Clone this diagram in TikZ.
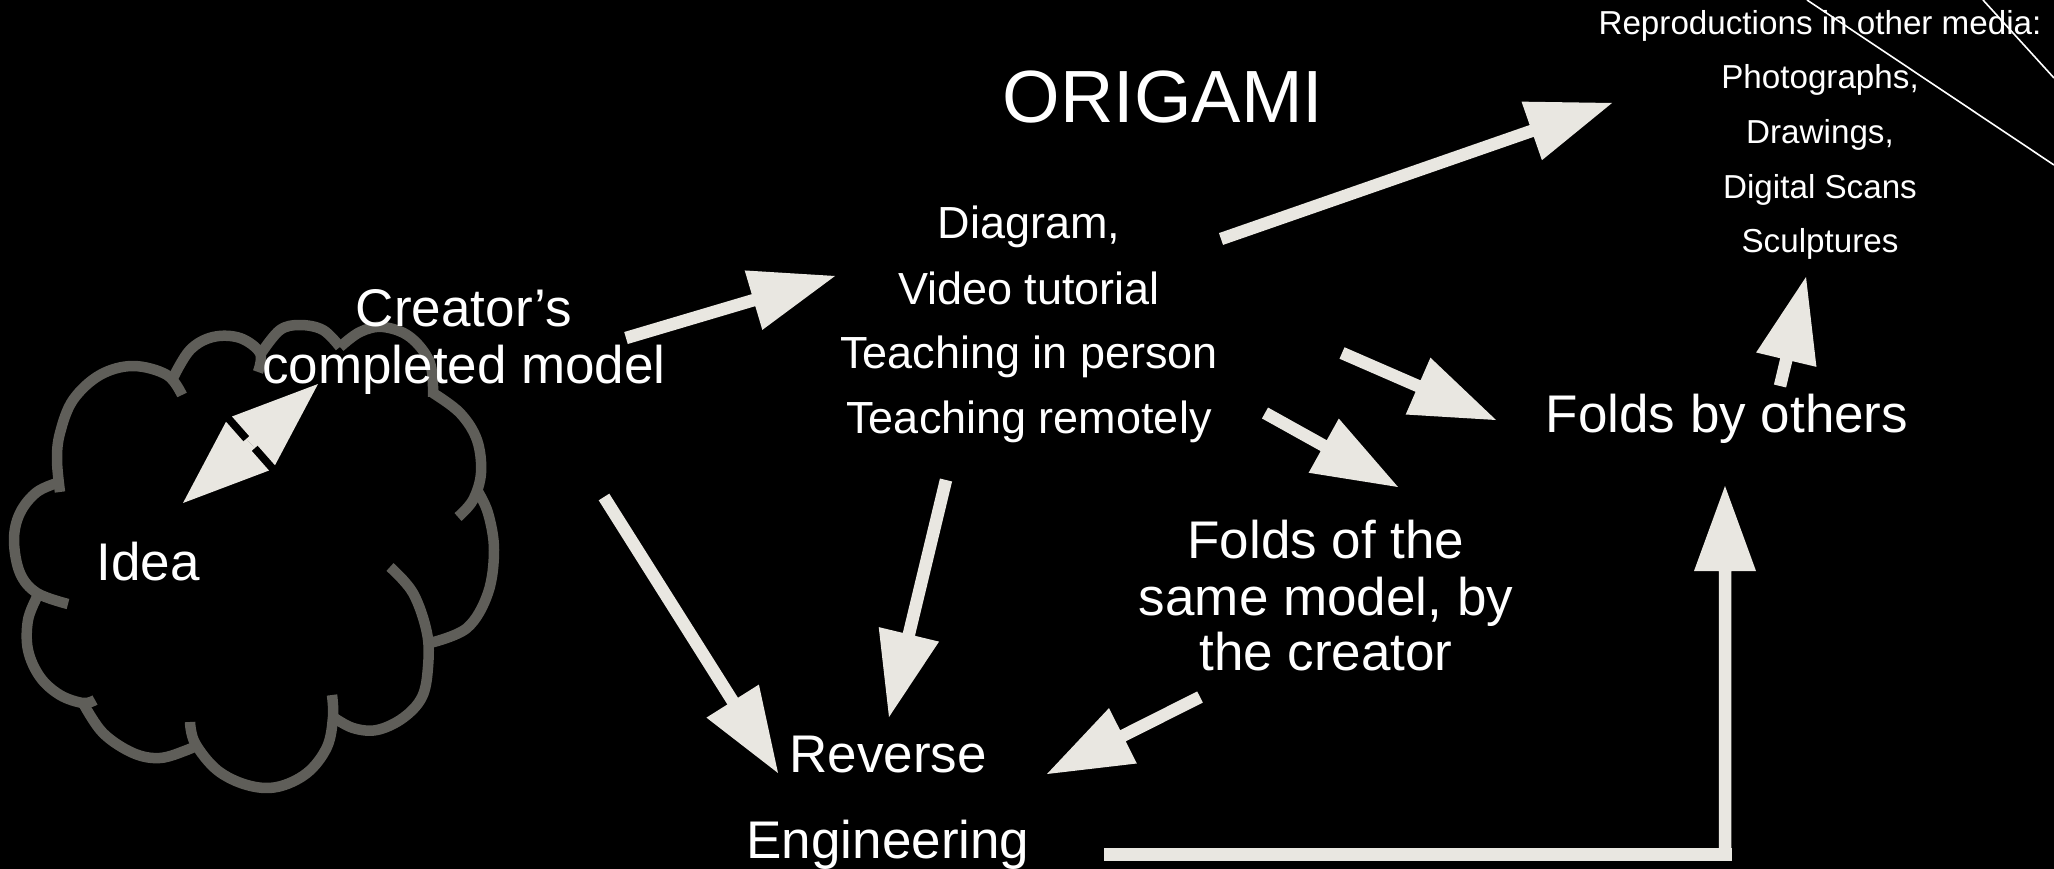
\documentclass[tikz,border=0pt]{standalone}
\usepackage{fontspec}
\setmainfont{Liberation Sans}
\usetikzlibrary{calc}
\definecolor{arrowc}{RGB}{233,231,225}
\definecolor{cloudc}{RGB}{95,94,89}
\def\asw{6.25pt}\def\ahw{31pt}\def\ahl{85pt}
\newcommand\barrow[2]{%
 \coordinate (bC) at ($(#2)!\ahl!(#1)$);
 \fill[arrowc] ($(#1)!\asw!90:(#2)$) -- ($(bC)!\asw!90:(#2)$) -- ($(bC)!\ahw!90:(#2)$) -- (#2)
   -- ($(bC)!\ahw!-90:(#2)$) -- ($(bC)!\asw!-90:(#2)$) -- ($(#1)!\asw!-90:(#2)$) -- cycle;}
\tikzset{
 txt/.style={text=white, inner sep=0pt, anchor=base},
 big/.style={txt, font=\fontsize{53}{60}\selectfont},
 mid/.style={txt, font=\fontsize{45}{52}\selectfont},
 small/.style={txt, font=\fontsize{33.2}{40}\selectfont},
 cloudline/.style={draw=cloudc, line width=10.5pt, line cap=butt, line join=round},
 thinline/.style={draw=white, line width=1.6pt}
}
\begin{document}
\begin{tikzpicture}[x=1pt,y=-1pt]
\useasboundingbox (0,0) rectangle (2054,869);
\fill[black] (0,0) rectangle (2054,869);

% cloud
\draw[cloudline] plot[smooth, tension=0.6] coordinates {(182,395) (167,375) (133,366) (100,375) (73,400) (60,433) (57,460) (60,492)};
\draw[cloudline] plot[smooth, tension=0.6] coordinates {(258,372) (260,353) (240,338) (213,337) (190,350) (173,378)};
\draw[cloudline] plot[smooth, tension=0.6] coordinates {(340,347) (323,330) (300,325) (280,330) (262,352)};
\draw[cloudline] plot[smooth, tension=0.6] coordinates {(433,397) (430,363) (410,337) (383,327) (360,332) (340,347)};
\draw[cloudline] plot[smooth, tension=0.6] coordinates {(458,517) (473,500) (481,473) (477,440) (460,413) (433,393)};
\draw[cloudline] plot[smooth, tension=0.6] coordinates {(430,643) (467,628) (488,593) (494,550) (488,513) (477,490)};
\draw[cloudline] plot[smooth, tension=0.6] coordinates {(333,717) (353,728) (377,730) (403,718) (422,697) (428,667) (427,633) (413,593) (390,567)};
\draw[cloudline] plot[smooth, tension=0.6] coordinates {(190,722) (195,743) (217,770) (247,785) (277,787) (307,773) (327,747) (333,717) (332,695)};
\draw[cloudline] plot[smooth, tension=0.6] coordinates {(83,703) (103,733) (133,753) (160,758) (187,750) (197,745)};
\draw[cloudline] plot[smooth, tension=0.6] coordinates {(37,597) (28,620) (28,650) (40,677) (60,695) (83,703) (95,700)};
\draw[cloudline] plot[smooth, tension=0.6] coordinates {(60,482) (37,492) (20,513) (14,540) (20,573) (37,593) (68,604)};

% thin lines top right
\coordinate (l1a) at (1807,0); \coordinate (l1b) at (2054,165);
\coordinate (l2a) at (1983,0); \coordinate (l2b) at (2054,78);
\draw[thinline] (l1a) -- (l1b);
\draw[thinline] (l2a) -- (l2b);

% texts
\node[txt, font=\fontsize{74}{80}\selectfont] (origami) at (1163,123) {ORIGAMI};
\node[small] (rep1) at (1820,35) {Reproductions in other media:};
\node[small] (rep2) at (1820,89) {Photographs,};
\node[small] (rep3) at (1820,144) {Drawings,};
\node[small] (rep4) at (1820,199) {Digital Scans};
\node[small] (rep5) at (1820,252) {Sculptures};
\node[mid] (dia1) at (1029,239) {Diagram,};
\node[mid] (dia2) at (1029,304) {Video tutorial};
\node[mid] (dia3) at (1029,368) {Teaching in person};
\node[mid] (dia4) at (1029,433) {Teaching remotely};
\node[big] (cre1) at (464,326) {Creator’s};
\node[big] (cre2) at (464,383) {completed model};
\node[big] (idea) at (148,580) {Idea};
\node[big] (fbo) at (1727,432) {Folds by others};
\node[big] (fos1) at (1326,558) {Folds of the};
\node[big] (fos2) at (1326,615) {same model, by};
\node[big] (fos3) at (1326,670) {the creator};
\node[big] (rev1) at (888,772) {Reverse};
\node[big] (rev2) at (888,858) {Engineering};

% arrow end points
\coordinate (aA1) at (626,338);  \coordinate (aA2) at (835,276);
\coordinate (aB1) at (1221,239); \coordinate (aB2) at (1612,103);
\coordinate (aC1) at (1342,353); \coordinate (aC2) at (1496,420);
\coordinate (aD1) at (1265,413); \coordinate (aD2) at (1398,487);
\coordinate (aE1) at (946,480);  \coordinate (aE2) at (889,717);
\coordinate (aF1) at (604,497);  \coordinate (aF2) at (778,773);
\coordinate (aG1) at (1200,697); \coordinate (aG2) at (1047,774);
\coordinate (aI1) at (1780,386); \coordinate (aI2) at (1806,277);
\coordinate (hS) at (1104,854);  \coordinate (hC) at (1731.5,854);
\coordinate (hV) at (1725,860.5); \coordinate (hT) at (1725,486);
\coordinate (jA) at (183,503);   \coordinate (jB) at (318,384);
\coordinate (jM) at ($(jA)!0.5!(jB)$);

\barrow{aA1}{aA2}
\barrow{aB1}{aB2}
\barrow{aC1}{aC2}
\barrow{aD1}{aD2}
\barrow{aE1}{aE2}
\barrow{aF1}{aF2}
\barrow{aG1}{aG2}
\barrow{aI1}{aI2}
\draw[arrowc, line width=13pt] (hS) -- (hC);
\barrow{hV}{hT}
\def\ahw{32.5pt}\def\ahl{86pt}
\barrow{jM}{jA}
\barrow{jM}{jB}
\end{tikzpicture}
\end{document}
